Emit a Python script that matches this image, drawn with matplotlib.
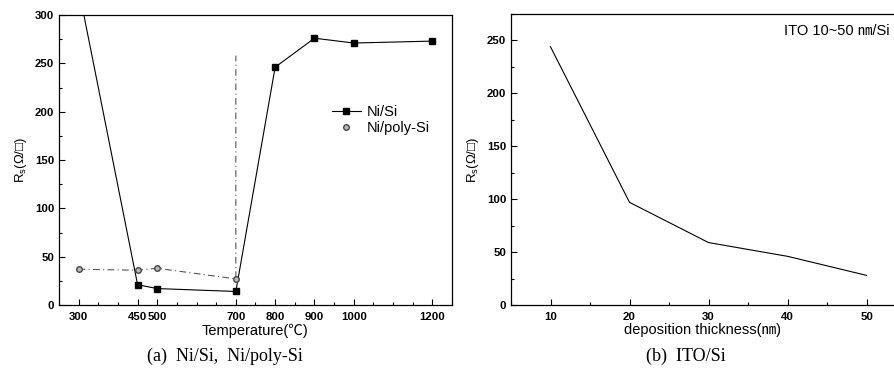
import matplotlib
matplotlib.use("Agg")
import matplotlib.pyplot as plt
from matplotlib.ticker import MultipleLocator, FixedLocator

plt.rcParams['font.family'] = ['Liberation Sans', 'Noto Sans CJK KR', 'DejaVu Sans']

# Panel (a)
temp_ticks = [300, 450, 500, 700, 800, 900, 1000, 1200]
nisi_temp = [300, 450, 500, 700, 800, 900, 1000, 1200]
nisi_rs = [327, 21, 17, 14, 246, 276, 271, 273]
poly_temp = [300, 450, 500, 700, 700]
poly_rs = [37, 36, 38, 27, 258]

# Panel (b)
ito_thick = [10, 20, 30, 40, 50]
ito_rs = [244, 97, 59, 46, 28]

fig = plt.figure(figsize=(8.95, 3.71), dpi=100)
W, H = 895, 371
axa = fig.add_axes([59 / W, 1 - 305 / H, (452 - 59) / W, (305 - 15) / H])
axb = fig.add_axes([511 / W, 1 - 305 / H, (895 - 511) / W, (305 - 14) / H])

tick_fs = 8.2
lab_fs = 10.5
ylab_fs = 9.5

# (a)
axa.plot(nisi_temp, nisi_rs, color='black', lw=0.8, marker='s', ms=5,
         mfc='black', mec='black', label='Ni/Si', clip_on=True)
axa.plot(poly_temp, poly_rs, color='#555555', lw=0.8, ls=(0, (6, 3, 1, 3)),
         marker='o', ms=4, mfc='#bbbbbb', mec='#444444', markevery=[0, 1, 2, 3],
         label='Ni/poly-Si')
axa.set_xlim(250, 1250)
axa.set_ylim(0, 300)
axa.xaxis.set_major_locator(FixedLocator(temp_ticks))
axa.xaxis.set_minor_locator(MultipleLocator(50))
axa.yaxis.set_major_locator(MultipleLocator(50))
axa.yaxis.set_minor_locator(MultipleLocator(25))
axa.set_xlabel('Temperature(℃)', fontsize=lab_fs, labelpad=1)
axa.set_ylabel(r'R$_\mathregular{s}$(Ω/□)', fontsize=ylab_fs, labelpad=4)
leg = axa.legend(loc='upper left', bbox_to_anchor=(0.66, 0.735), frameon=False,
                 fontsize=lab_fs, handlelength=2.0, handletextpad=0.4,
                 labelspacing=0.15)
handles = leg.legend_handles
handles[1].set_linestyle('none')

# (b)
axb.plot(ito_thick, ito_rs, color='black', lw=0.8)
axb.set_xlim(5, 53.6)
axb.set_ylim(0, 275)
axb.xaxis.set_major_locator(MultipleLocator(10))
axb.xaxis.set_minor_locator(MultipleLocator(5))
axb.yaxis.set_major_locator(MultipleLocator(50))
axb.yaxis.set_minor_locator(MultipleLocator(25))
axb.set_xlabel('deposition thickness(㎚)', fontsize=lab_fs, labelpad=1)
axb.set_ylabel(r'R$_\mathregular{s}$(Ω/□)', fontsize=ylab_fs, labelpad=4)
axb.text(0.985, 0.94, 'ITO 10~50 ㎚/Si', transform=axb.transAxes, ha='right',
         va='center', fontsize=lab_fs)

for ax in (axa, axb):
    ax.tick_params(which='both', direction='in', labelsize=tick_fs, width=0.8)
    ax.tick_params(which='major', length=4)
    ax.tick_params(which='minor', length=2)
    ax.tick_params(axis='x', pad=5)
    for s in ax.spines.values():
        s.set_linewidth(0.9)
    for t in ax.get_xticklabels() + ax.get_yticklabels():
        t.set_fontweight('bold')

fig.text(225 / W, 1 - 356 / H, '(a)  Ni/Si,  Ni/poly-Si', ha='center', va='center',
         fontsize=13, family=['Liberation Serif', 'DejaVu Serif'])
fig.text(686 / W, 1 - 356 / H, '(b)  ITO/Si', ha='center', va='center',
         fontsize=13, family=['Liberation Serif', 'DejaVu Serif'])

fig.savefig('out.png', dpi=100)
